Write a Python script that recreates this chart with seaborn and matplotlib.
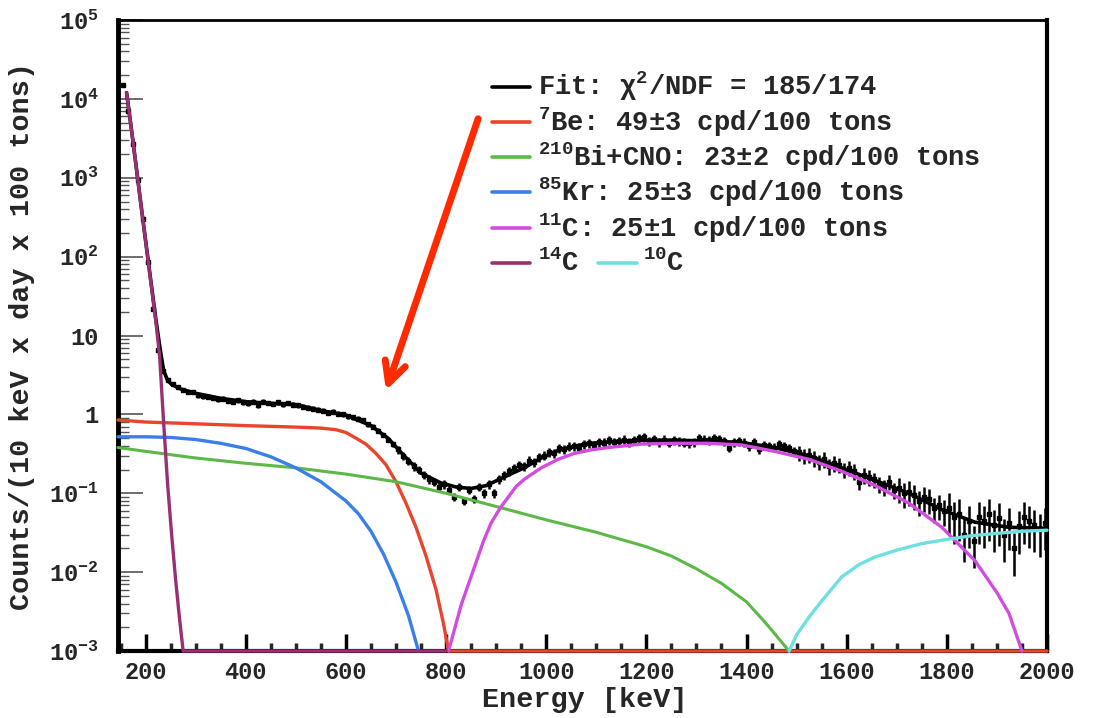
import numpy as np
import pandas as pd
import matplotlib
matplotlib.use("Agg")
import matplotlib.pyplot as plt
import seaborn as sns
from matplotlib.ticker import FixedLocator, MultipleLocator, NullFormatter, FixedFormatter, LogLocator

# ---------------- data ----------------
data_energy = np.arange(155, 2000, 10)  # bin centres (keV)
data_rate = [
    1.5e4, 7.0e3, 2.7e3, 9.5e2, 3.0e2, 85, 22, 6.5, 3.6, 2.7,
    2.4, 2.2, 2.05, 1.9, 1.95, 1.75, 1.7, 1.68, 1.62, 1.55,
    1.58, 1.5, 1.45, 1.52, 1.42, 1.38, 1.45, 1.3, 1.45, 1.4,
    1.36, 1.42, 1.35, 1.4, 1.33, 1.3, 1.25, 1.22, 1.18, 1.15,
    1.12, 1.05, 1.08, 1.02, 1.0, 0.95, 0.92, 0.88, 0.85, 0.75,
    0.7, 0.62, 0.55, 0.48, 0.42, 0.36, 0.3, 0.26, 0.22, 0.2,
    0.17, 0.15, 0.14, 0.12, 0.13, 0.11, 0.09, 0.12, 0.08, 0.11,
    0.085, 0.12, 0.1, 0.13, 0.1, 0.15, 0.17, 0.19, 0.21, 0.23,
    0.22, 0.26, 0.25, 0.29, 0.3, 0.33, 0.32, 0.37, 0.36, 0.39,
    0.4, 0.38, 0.42, 0.43, 0.41, 0.45, 0.44, 0.47, 0.45, 0.46,
    0.48, 0.44, 0.47, 0.5, 0.51, 0.46, 0.49, 0.45, 0.48, 0.44,
    0.47, 0.46, 0.44, 0.43, 0.45, 0.5, 0.48, 0.47, 0.5, 0.49,
    0.46, 0.38, 0.45, 0.46, 0.44, 0.40, 0.45, 0.36, 0.41, 0.40,
    0.38, 0.42, 0.40, 0.37, 0.34, 0.33, 0.30, 0.31, 0.28, 0.25,
    0.27, 0.22, 0.24, 0.23, 0.2, 0.21, 0.19, 0.14, 0.17, 0.16,
    0.15, 0.13, 0.12, 0.14, 0.11, 0.115, 0.10, 0.105, 0.095, 0.08,
    0.09, 0.085, 0.065, 0.07, 0.06, 0.065, 0.05, 0.055, 0.03, 0.045,
    0.025, 0.05, 0.045, 0.055, 0.04, 0.048, 0.03, 0.042, 0.02, 0.038,
    0.05, 0.045, 0.04, 0.035, 0.042,
]
err_edges = [150, 300, 700, 900, 1500, 1700, 1800, 2000]
err_rel = [0.03, 0.07, 0.12, 0.13, 0.22, 0.35, 0.55]

fit_e = [162, 170, 180, 190, 200, 210, 220, 228, 236, 244, 252, 270, 300, 350, 400, 450, 500,
         550, 600, 650, 684, 716, 750, 790, 820, 850, 880, 920, 956, 990, 1024, 1060, 1090,
         1150, 1200, 1260, 1324, 1390, 1456, 1524, 1590, 1656, 1724, 1790, 1856, 1924, 2000]
fit_y = [1.2e4, 5e3, 1.6e3, 500, 160, 52, 17, 7.5, 3.6, 2.7, 2.4, 2.1, 1.85, 1.6, 1.45, 1.38, 1.33,
         1.12, 0.98, 0.72, 0.5, 0.3, 0.18, 0.135, 0.12, 0.115, 0.125, 0.165, 0.21, 0.28, 0.35, 0.40, 0.43,
         0.46, 0.47, 0.47, 0.46, 0.44, 0.38, 0.30, 0.21, 0.146, 0.10, 0.062, 0.043, 0.037, 0.036]

be7_e = [145, 200, 300, 400, 500, 550, 580, 600, 620, 640, 660, 680, 700, 720, 740, 760, 780, 795, 805, 2000]
be7_y = [0.85, 0.80, 0.76, 0.72, 0.69, 0.67, 0.64, 0.59, 0.50, 0.42, 0.32, 0.23, 0.14, 0.075, 0.037,
         0.016, 0.006, 0.0022, 0.001, 0.001]

bi_e = [145, 200, 300, 400, 500, 600, 700, 800, 900, 1000, 1100, 1200, 1250, 1300, 1350, 1400, 1440, 1470, 1485]
bi_y = [0.38, 0.34, 0.28, 0.24, 0.21, 0.175, 0.14, 0.10, 0.068, 0.046, 0.032, 0.021, 0.016, 0.011,
        0.0072, 0.0042, 0.0022, 0.0013, 0.001]

kr_e = [145, 200, 250, 300, 350, 400, 450, 500, 550, 600, 625, 650, 675, 700, 725, 745]
kr_y = [0.52, 0.52, 0.51, 0.48, 0.43, 0.37, 0.29, 0.21, 0.14, 0.08, 0.055, 0.033, 0.017, 0.0075, 0.0028, 0.001]

c11_e = [805, 830, 856, 875, 890, 908, 924, 940, 956, 990, 1024, 1056, 1090, 1124, 1190, 1260, 1324,
         1390, 1456, 1524, 1590, 1656, 1724, 1790, 1856, 1900, 1924, 1950]
c11_y = [0.001, 0.0038, 0.0113, 0.025, 0.042, 0.065, 0.089, 0.122, 0.15, 0.21, 0.27, 0.32, 0.355,
         0.38, 0.42, 0.43, 0.43, 0.41, 0.34, 0.27, 0.19, 0.126, 0.075, 0.037, 0.014, 0.0055, 0.003, 0.001]

c14_e = [162, 170, 180, 190, 200, 210, 220, 228, 236, 244, 252, 260, 268, 275, 800]
c14_y = [1.2e4, 5e3, 1.6e3, 500, 160, 50, 16, 5.5, 0.8, 0.13, 0.03, 0.008, 0.0025, 0.001, 0.001]

c10_e = [1485, 1500, 1525, 1550, 1590, 1625, 1656, 1700, 1750, 1800, 1850, 1900, 1950, 2000]
c10_y = [0.001, 0.0016, 0.0027, 0.0043, 0.0087, 0.0125, 0.0155, 0.019, 0.023, 0.026, 0.029, 0.031, 0.033, 0.034]

legend_labels = [r"Fit: $\chi^{2}$/NDF = 185/174",
                 r"$^{7}$Be: 49$\pm$3 cpd/100 tons",
                 r"$^{210}$Bi+CNO: 23$\pm$2 cpd/100 tons",
                 r"$^{85}$Kr: 25$\pm$3 cpd/100 tons",
                 r"$^{11}$C: 25$\pm$1 cpd/100 tons",
                 r"$^{14}$C", r"$^{10}$C"]

xtick_vals = [200, 400, 600, 800, 1000, 1200, 1400, 1600, 1800, 2000]
ytick_vals = [1e-3, 1e-2, 1e-1, 1, 10, 1e2, 1e3, 1e4, 1e5]
ytick_labels = [r"10$^{-3}$", r"10$^{-2}$", r"10$^{-1}$", "1", "10",
                r"10$^{2}$", r"10$^{3}$", r"10$^{4}$", r"10$^{5}$"]

# ---------------- style ----------------
sns.set_theme(style="ticks")
mono = ["Liberation Mono", "DejaVu Sans Mono"]
plt.rcParams["font.family"] = mono
plt.rcParams["font.weight"] = "bold"
plt.rcParams["mathtext.fontset"] = "custom"
plt.rcParams["mathtext.rm"] = "Liberation Mono:bold"
plt.rcParams["mathtext.bf"] = "Liberation Mono:bold"
plt.rcParams["mathtext.it"] = "Liberation Serif:italic:bold"
plt.rcParams["mathtext.default"] = "rm"

col_fit = "black"
col_be = "#e8452c"
col_bi = "#5cb848"
col_kr = "#3a7fe6"
col_c11 = "#d24ce0"
col_c14 = "#9a2f72"
col_c10 = "#6ee0e0"

fig = plt.figure(figsize=(10.99, 7.18), dpi=100)
ax = fig.add_axes([0.1074, 0.0933, 0.8453, 0.8788])
ax.set_yscale("log")
ax.set_xlim(145, 2000)
ax.set_ylim(1e-3, 1e5)

# data points with error bars
rate = np.asarray(data_rate)
idx = np.clip(np.searchsorted(err_edges, data_energy) - 1, 0, len(err_rel) - 1)
yerr = rate * np.asarray(err_rel)[idx]
ax.errorbar(data_energy, rate, yerr=yerr, fmt="s", ms=3.5, color="black",
            elinewidth=1.8, capsize=0, zorder=3)

curves = [
    (fit_e, fit_y, col_fit, 2.6),
    (be7_e, be7_y, col_be, 2.4),
    (bi_e, bi_y, col_bi, 2.2),
    (kr_e, kr_y, col_kr, 2.4),
    (c11_e, c11_y, col_c11, 2.4),
    (c14_e, c14_y, col_c14, 2.4),
    (c10_e, c10_y, col_c10, 2.4),
]
for e, y, c, lw in curves:
    df = pd.DataFrame({"E": e, "y": y})
    sns.lineplot(data=df, x="E", y="y", ax=ax, color=c, linewidth=lw,
                 sort=False, estimator=None, zorder=4, clip_on=False)

# arrow annotation
ax.annotate("", xy=(680, 2.0), xytext=(864, 5600),
            arrowprops=dict(arrowstyle="->", color="#ff2a00", lw=5,
                            mutation_scale=38, shrinkA=0, shrinkB=0),
            zorder=6)

# ticks
ax.xaxis.set_major_locator(FixedLocator(xtick_vals))
ax.xaxis.set_minor_locator(MultipleLocator(50))
ax.yaxis.set_major_locator(FixedLocator(ytick_vals))
ax.yaxis.set_major_formatter(FixedFormatter(ytick_labels))
ax.yaxis.set_minor_locator(LogLocator(base=10, subs=np.arange(2, 10)))
ax.yaxis.set_minor_formatter(NullFormatter())
ax.tick_params(axis="x", which="major", direction="in", length=12, width=2.5,
               labelsize=17, pad=7, top=False, color="black")
ax.tick_params(axis="x", which="minor", direction="in", length=6, width=2.5, top=False)
ax.tick_params(axis="y", which="major", direction="in", length=18, width=1.2,
               labelsize=17, pad=14, right=False, color="#555555")
ax.tick_params(axis="y", which="minor", direction="in", length=8, width=1.0,
               right=False, color="#555555")
for lab in ax.get_xticklabels() + ax.get_yticklabels():
    lab.set_fontweight("bold")

for side, lw in [("left", 3.5), ("bottom", 3.0), ("right", 3.0), ("top", 2.0)]:
    ax.spines[side].set_visible(True)
    ax.spines[side].set_linewidth(lw)
    ax.spines[side].set_color("black")

ax.set_xlabel("Energy [keV]", fontsize=20.5, fontweight="bold")
ax.set_ylabel("Counts/(10 keV x day x 100 tons)", fontsize=20.5, fontweight="bold")
ax.xaxis.set_label_coords(0.502, -0.057)
ax.yaxis.set_label_coords(-0.089, 0.5)
ax.grid(False)

# legend (drawn in axes coordinates)
rows_y = [0.894, 0.838, 0.783, 0.727, 0.670, 0.615]
leg_cols = [col_fit, col_be, col_bi, col_kr, col_c11, col_c14]
for ry, c, lab in zip(rows_y, leg_cols, legend_labels[:6]):
    ax.plot([0.4026, 0.4435], [ry, ry], transform=ax.transAxes, color=c, lw=2.6, clip_on=False)
    ax.text(0.452, ry, lab, transform=ax.transAxes, fontsize=19.5, fontweight="bold",
            va="center", ha="left", family=mono)
ax.plot([0.5167, 0.5587], [rows_y[5], rows_y[5]], transform=ax.transAxes,
        color=col_c10, lw=2.6, clip_on=False)
ax.text(0.5651, rows_y[5], legend_labels[6], transform=ax.transAxes, fontsize=19.5,
        fontweight="bold", va="center", ha="left", family=mono)

fig.savefig("out.png", dpi=100, facecolor="white")
